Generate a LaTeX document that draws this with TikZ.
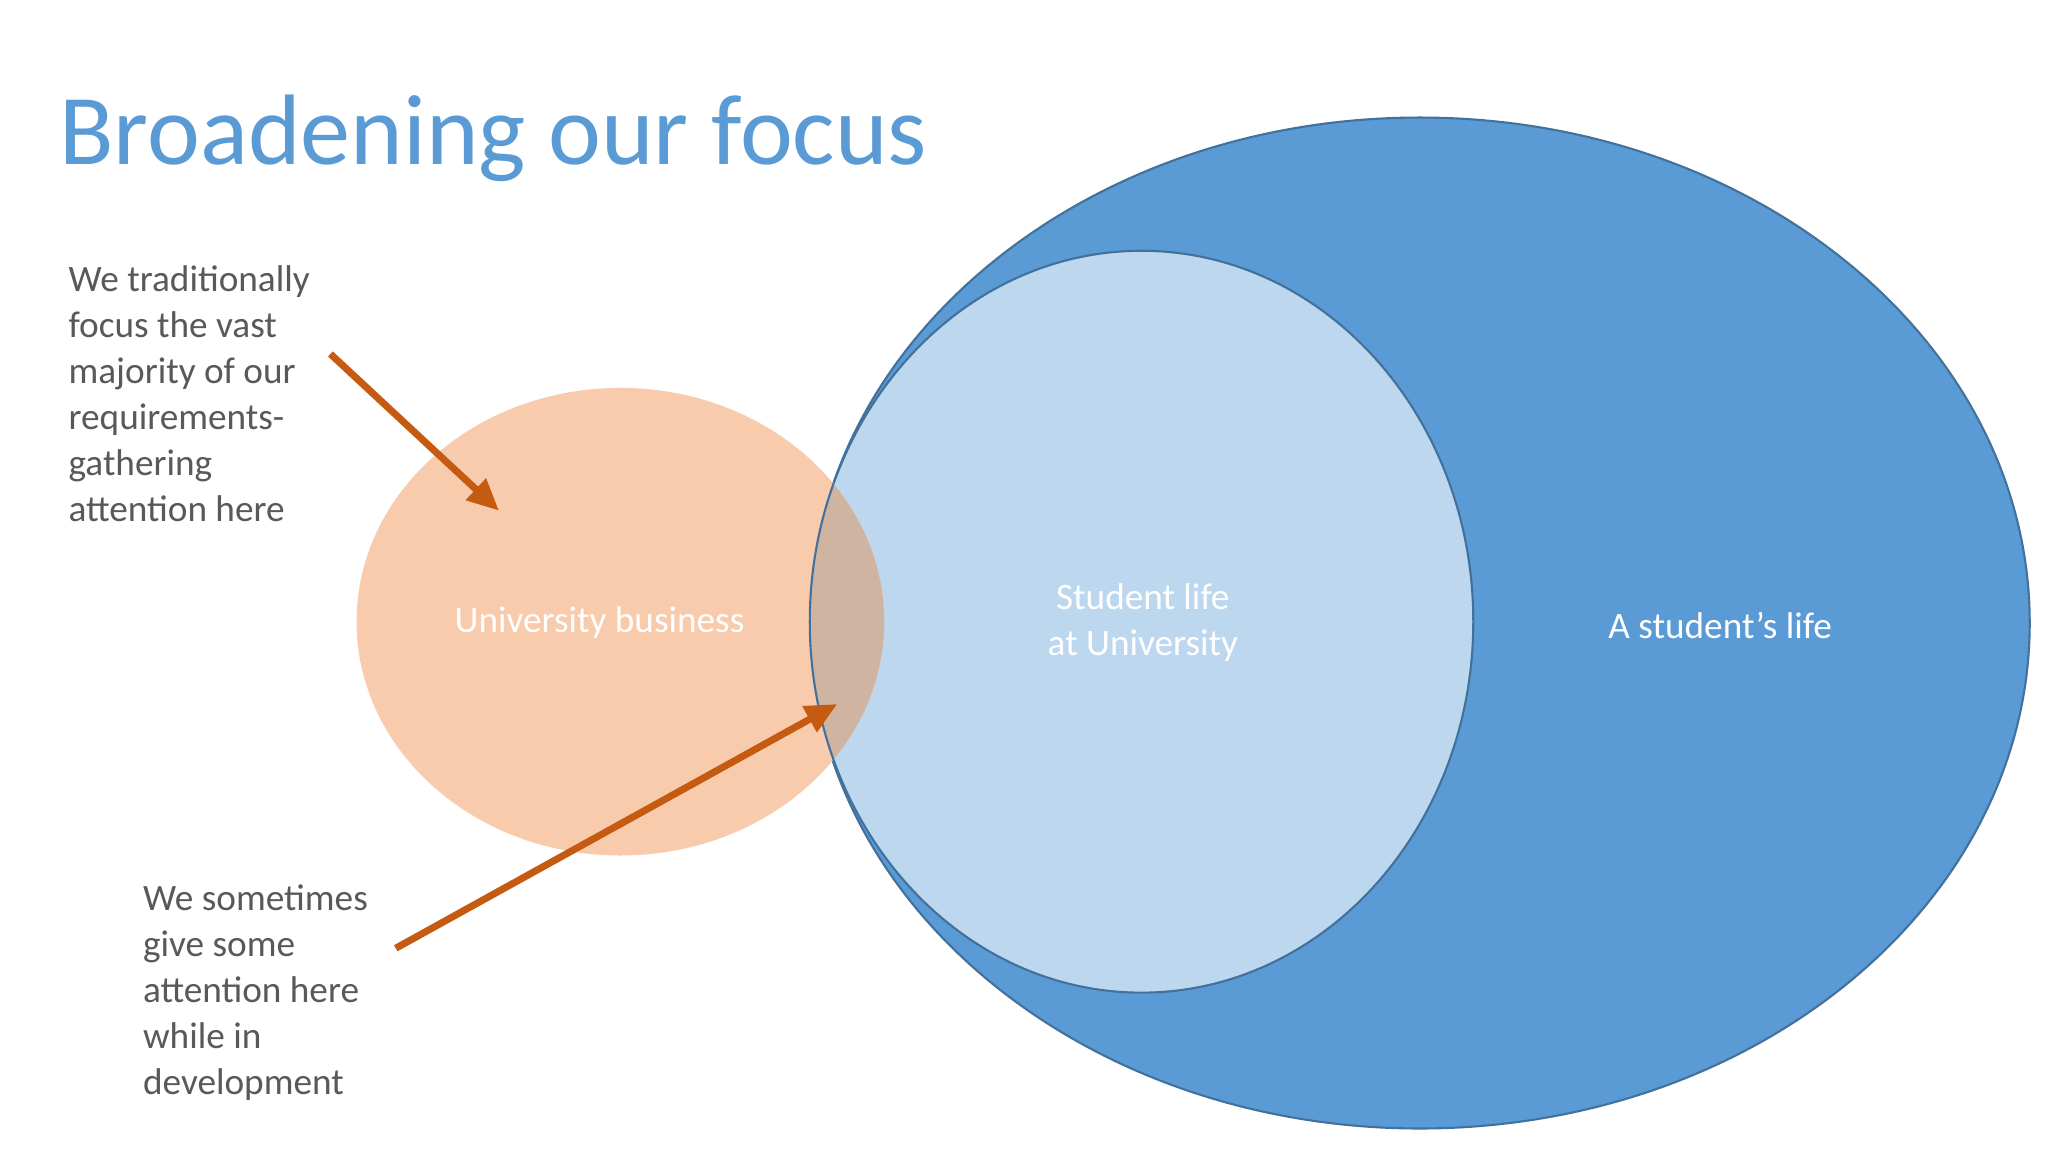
\documentclass[tikz,border=0pt]{standalone}
\usepackage{fontspec}
\setmainfont{Carlito}
\usetikzlibrary{arrows.meta}
\definecolor{bigblue}{HTML}{5B9BD5}
\definecolor{edge}{HTML}{41719C}
\definecolor{lightblue}{HTML}{BDD7EE}
\definecolor{orangefill}{HTML}{F8CBAD}
\definecolor{overlap}{RGB}{208,180,162}
\definecolor{arrowc}{HTML}{C55A11}
\definecolor{txt}{HTML}{595959}
\begin{document}
\begin{tikzpicture}[x=0.013061cm,y=-0.013061cm,
  body/.style={anchor=north west,align=left,text=txt,font=\fontsize{10.6pt}{13.1pt}\selectfont,inner sep=0pt},
  inlabel/.style={text=white,font=\fontsize{10.6pt}{13.1pt}\selectfont,align=center},
  arr/.style={draw=arrowc,line width=2pt,-{Triangle[length=9pt,width=8pt]}}]
\useasboundingbox (0,0) rectangle (1568,882);
\fill[white] (0,0) rectangle (1568,882);
\node[anchor=base west,text=bigblue,font=\fontsize{28.5pt}{34pt}\selectfont,inner sep=0pt] (title) at (45,126) {Broadening our focus};
% shapes
\filldraw[fill=bigblue,draw=edge,line width=0.6pt] (1087,477) ellipse [x radius=467,y radius=387];
\filldraw[fill=lightblue,draw=edge,line width=0.6pt] (874,476) ellipse [x radius=254,y radius=284];
\fill[orangefill] (475,476) ellipse [x radius=202,y radius=179];
\begin{scope}
\clip (475,476) ellipse [x radius=202,y radius=179];
\fill[overlap] (874,476) ellipse [x radius=254,y radius=284];
\draw[edge,line width=0.6pt] (874,476) ellipse [x radius=254,y radius=284];
\end{scope}
\node[inlabel] (ub) at (459,477) {University business};
\node[inlabel] (sl) at (875,477) {Student life\\at University};
\node[inlabel] (asl) at (1317,479) {A student’s life};
\node[body] (t1) at (52,203) {We traditionally\\focus the vast\\majority of our\\requirements-\\gathering\\attention here};
\node[body] (t2) at (109,677) {We sometimes\\give some\\attention here\\while in\\development};
\coordinate (a1s) at (253,271);
\coordinate (a1e) at (382,391);
\coordinate (a2s) at (303,726);
\coordinate (a2e) at (641,539);
\draw[arr] (a1s) -- (a1e);
\draw[arr] (a2s) -- (a2e);
\end{tikzpicture}
\end{document}
